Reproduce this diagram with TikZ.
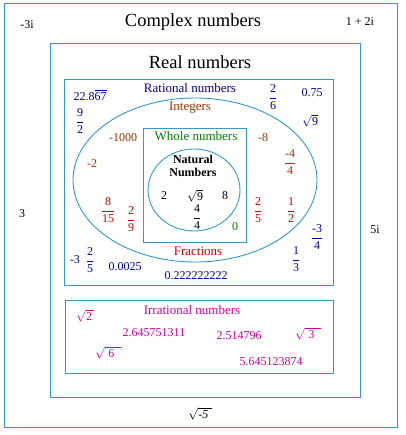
\documentclass[tikz,border=0pt]{standalone}
\usepackage{amsmath}
\usepackage{fontspec}
\setmainfont{Liberation Serif}
\usepackage{tikz}

\definecolor{setline}{RGB}{51,153,204}
\definecolor{ratcol}{RGB}{0,0,160}
\definecolor{intcol}{RGB}{153,51,0}
\definecolor{wholecol}{RGB}{0,128,0}
\definecolor{fraccol}{RGB}{204,0,0}
\definecolor{irrcol}{RGB}{204,0,153}
\newcommand{\fr}[2]{$\dfrac{\text{#1}}{\text{#2}}$}
\newcommand{\rt}[1]{$\sqrt{\text{#1}}$}

\begin{document}
\begin{tikzpicture}[x=1pt,y=-1pt,
  every node/.style={inner sep=0pt,font=\fontsize{12}{14}\selectfont},
  title/.style={font=\fontsize{18.5}{22}\selectfont},
  setname/.style={font=\fontsize{13}{15}\selectfont},
  setbox/.style={draw=setline,line width=0.9pt}]
  \useasboundingbox (0,0) rectangle (405,435);
  \draw[setbox] (4,3) rectangle (397,427);
  \draw[setbox] (50,43) rectangle (360,397);
  \draw[setbox] (64,79) rectangle (333,285);
  \draw[setbox] (65,300) rectangle (333,373);
  \draw[setbox] (195,180) ellipse (122 and 82);
  \draw[setbox] (143,128) rectangle (246,242);
  \draw[setbox] (194,190) ellipse (46 and 41);
  \node[title] (cpx) at (193,22) {Complex numbers};
  \node (m3i) at (27,25) {-3i};
  \node (c12i) at (360,22) {1 + 2i};
  \node (c3) at (22,214) {3};
  \node (c5i) at (375,230) {5i};
  \node (cm5) at (200,414) {$\sqrt{\text{\textit{-5}}\;}$};
  \node[title] (real) at (200,62) {Real numbers};
  \begin{scope}[every node/.append style={text=ratcol}]
    \node[setname] (rat) at (190,88) {Rational numbers};
    \node (r1) at (90,95) {22.8$\overline{\text{67}}$};
    \node (r2) at (273,97) {\fr{2}{6}};
    \node (r3) at (312,93) {0.75};
    \node (r4) at (80,121) {\fr{9}{2}};
    \node (r5) at (310,121) {\rt{9}};
    \node (r6) at (317,237) {\fr{-3}{4}};
    \node (r7) at (75,260) {-3};
    \node (r8) at (90,260) {\fr{2}{5}};
    \node (r9) at (125,267) {0.0025};
    \node (r10) at (296,259) {\fr{1}{3}};
    \node (r11) at (196,276) {0.222222222};
  \end{scope}
  \begin{scope}[every node/.append style={text=intcol}]
    \node[setname] (int) at (190,108) {Integers};
    \node (i1) at (123,138) {-1000};
    \node (i2) at (263,138) {-8};
    \node (i3) at (92,164) {-2};
    \node (i4) at (290,162) {\fr{-4}{4}};
  \end{scope}
  \begin{scope}[every node/.append style={text=wholecol}]
    \node[setname] (whole) at (196,136) {Whole numbers};
    \node (w1) at (235,227) {0};
  \end{scope}
  \node[align=center,font=\fontsize{12}{13}\selectfont\bfseries] (nat) at (193,166) {Natural\\Numbers};
  \node (n1) at (164,196) {2};
  \node (n2) at (195,196) {\rt{9}};
  \node (n3) at (225,196) {8};
  \node (n4) at (197,217) {\fr{4}{4}};
  \begin{scope}[every node/.append style={text=fraccol}]
    \node[setname] (frac) at (198,251) {Fractions};
    \node (f1) at (108,210) {\fr{8}{15}};
    \node (f2) at (131,219) {\fr{2}{9}};
    \node (f3) at (258,210) {\fr{2}{5}};
    \node (f4) at (291,210) {\fr{1}{2}};
  \end{scope}
  \begin{scope}[every node/.append style={text=irrcol}]
    \node[setname] (irr) at (192,310) {Irrational numbers};
    \node (q1) at (85,316) {$\sqrt{\text{2}\,}$};
    \node (q2) at (154,333) {2.645751311};
    \node (q3) at (239,336) {2.514796};
    \node (q4) at (308,334) {$\sqrt{\;\text{3}\;\;}$};
    \node (q5) at (108,353) {$\sqrt{\;\text{6}\;\;}$};
    \node (q6) at (271,362) {5.645123874};
  \end{scope}
\end{tikzpicture}
\end{document}
